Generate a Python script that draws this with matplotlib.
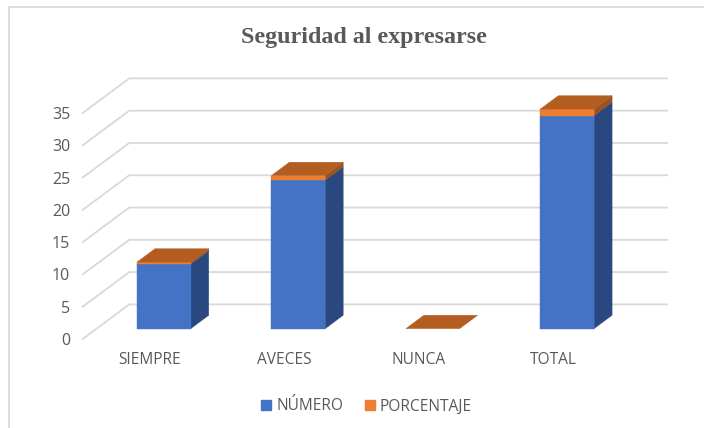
import matplotlib
matplotlib.use("Agg")
import matplotlib.pyplot as plt
from matplotlib.lines import Line2D
from matplotlib.patches import Polygon, Patch

categories = ["SIEMPRE", "AVECES", "NUNCA", "TOTAL"]
numero = [10, 23, 0, 33]
porcentaje = [0.3, 0.7, 0, 1.0]
yticks = [0, 5, 10, 15, 20, 25, 30, 35]
title = "Seguridad al expresarse"
series_names = ["NÚMERO", "PORCENTAJE"]

W, H = 704, 428
DX, DY = 0.346, 5.36      # depth offset of the back wall in data units
D0, D1 = 0.30, 0.686      # bar front / back position in depth
BW = 0.40
C_BLUE, C_BLUE_SIDE = "#4472C4", "#2A4880"
C_OR, C_OR_SIDE, C_OR_TOP = "#ED7D31", "#9C5220", "#B35E20"
GRID = "#D9D9D9"
TXT = "#595959"

plt.rcParams["font.family"] = "Open Sans"
fig = plt.figure(figsize=(W / 100, H / 100), dpi=100)
ax = fig.add_axes([82.7 / W, 1 - 339 / H, (620.5 - 82.7) / W, (339 - 113) / H])
ax.set_xlim(-0.5, 3.5)
ax.set_ylim(0, 35)
for s in ax.spines.values():
    s.set_visible(False)
ax.patch.set_visible(False)


def pr(x, y, d):
    return (x + d * DX, y + d * DY)


def poly(pts, color, z):
    ax.add_patch(Polygon(pts, closed=True, facecolor=color, edgecolor=color,
                         linewidth=0.3, clip_on=False, zorder=z))


for v in yticks:
    ax.plot(*zip(pr(-0.5, v, 0), pr(-0.5, v, 1), pr(3.5, v, 1)),
            color=GRID, lw=1.3, clip_on=False, zorder=1, solid_joinstyle="miter")

for i, (n, p) in enumerate(zip(numero, porcentaje)):
    l, r = i - BW / 2, i + BW / 2
    t = n + p
    if n > 0:
        poly([pr(r, 0, D0), pr(r, 0, D1), pr(r, n, D1), pr(r, n, D0)], C_BLUE_SIDE, 2)
        poly([pr(r, n, D0), pr(r, n, D1), pr(r, t, D1), pr(r, t, D0)], C_OR_SIDE, 2)
        poly([pr(l, 0, D0), pr(r, 0, D0), pr(r, n, D0), pr(l, n, D0)], C_BLUE, 3)
        poly([pr(l, n, D0), pr(r, n, D0), pr(r, t, D0), pr(l, t, D0)], C_OR, 3)
    poly([pr(l, t, D0), pr(r, t, D0), pr(r, t, D1), pr(l, t, D1)], C_OR_TOP, 3)

ax.set_yticks(yticks)
ax.set_xticks(range(len(categories)), categories)
ax.tick_params(axis="both", length=0, labelcolor=TXT)
ax.tick_params(axis="y", labelsize=11.5, pad=9, labelfontfamily="Open Sans")
ax.tick_params(axis="x", labelsize=11.2, pad=9)
for lab in ax.get_yticklabels():
    lab.set_y(lab.get_position()[1])

fig.text(364 / W, 1 - 38 / H, title, family="Liberation Serif", weight="bold",
         fontsize=17.3, color=TXT, ha="center", va="center")

# chart frame: only the top and left edges are visible in the crop
fig.add_artist(Line2D([8.8 / W, 8.8 / W, 1], [0, 1 - 7 / H, 1 - 7 / H],
                      transform=fig.transFigure, color=GRID, lw=1.3,
                      solid_joinstyle="miter"))

fig.legend(handles=[Patch(color=C_BLUE, label=series_names[0]),
                    Patch(color=C_OR, label=series_names[1])],
           loc="center", bbox_to_anchor=(366.5 / W, 1 - 406.5 / H), ncol=2, frameon=False,
           fontsize=11.2, labelcolor=TXT, handlelength=0.65, handleheight=0.65,
           handletextpad=0.32, columnspacing=1.4)

fig.savefig("out.png", dpi=100)
